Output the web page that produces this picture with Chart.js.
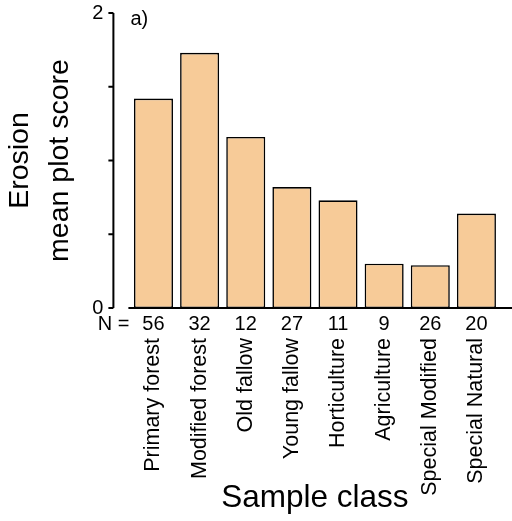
<!DOCTYPE html>
<html>
<head>
<meta charset="utf-8">
<script src="https://cdn.jsdelivr.net/npm/chart.js@4.4.0/dist/chart.umd.min.js"></script>
<style>
    html, body { margin: 0; padding: 0; background: #fff; }
    #wrap { width: 512px; height: 521px; }
</style>
</head>
<body>
<div id="wrap"><canvas id="erosion-chart" width="512" height="521"></canvas></div>
<script>
// Data
const categories = ['Primary forest', 'Modified forest', 'Old fallow', 'Young fallow', 'Horticulture', 'Agriculture', 'Special Modified', 'Special Natural'];
const sampleSizes = [56, 32, 12, 27, 11, 9, 26, 20];
const erosionScores = [1.42, 1.73, 1.16, 0.82, 0.73, 0.30, 0.29, 0.64];
const yLabelledTicks = [0, 2];
const panelLabel = 'a)';
const nPrefix = 'N =';

const barFill = '#F7CB98';
const nPadding = 4;

Chart.defaults.font.family = '"Liberation Sans", Arial, sans-serif';
Chart.defaults.color = '#000';

// R-style axes: detached y axis line, baseline, "N =" and panel letter
const axisDecor = {
    id: 'axisDecor',
    afterDraw(chart) {
        const { ctx, chartArea, scales } = chart;
        const y = scales.y;
        const axisX = chartArea.left - 17;
        ctx.save();
        ctx.strokeStyle = '#000';
        ctx.lineWidth = 2;

        ctx.beginPath();
        ctx.moveTo(axisX, y.getPixelForValue(y.max));
        ctx.lineTo(axisX, y.getPixelForValue(y.min));
        y.ticks.forEach(t => {
            const py = y.getPixelForValue(t.value);
            ctx.moveTo(axisX - 5, py);
            ctx.lineTo(axisX, py);
        });
        ctx.stroke();

        const baseY = y.getPixelForValue(0);
        ctx.beginPath();
        ctx.moveTo(chartArea.left - 2, baseY);
        ctx.lineTo(chart.width, baseY);
        ctx.stroke();

        ctx.fillStyle = '#000';
        ctx.font = '20px "Liberation Sans", Arial, sans-serif';
        ctx.textAlign = 'right';
        ctx.textBaseline = 'middle';
        ctx.fillText(nPrefix, chartArea.left - 1, scales.n.top + nPadding + 12);

        ctx.textAlign = 'left';
        ctx.textBaseline = 'alphabetic';
        ctx.fillText(panelLabel, chartArea.left, 25);
        ctx.restore();
    }
};

new Chart(document.getElementById('erosion-chart'), {
    type: 'bar',
    data: {
        labels: categories,
        datasets: [{
            data: erosionScores,
            backgroundColor: barFill,
            borderColor: '#000',
            borderWidth: 1.6,
            borderSkipped: false,
            categoryPercentage: 1,
            barPercentage: 0.846
        }]
    },
    options: {
        responsive: false,
        animation: false,
        devicePixelRatio: 1,
        layout: { padding: { top: 13, right: 12.5, left: 0, bottom: 0 } },
        plugins: {
            legend: { display: false },
            tooltip: { enabled: false }
        },
        scales: {
            y: {
                min: 0,
                max: 2,
                grid: { display: false, drawTicks: false },
                border: { display: false },
                ticks: {
                    stepSize: 0.5,
                    padding: 27,
                    font: { size: 20 },
                    callback: v => yLabelledTicks.includes(v) ? String(v) : ''
                },
                title: {
                    display: true,
                    text: ['Erosion', 'mean plot score'],
                    font: { size: 28.5, lineHeight: 1.4 },
                    padding: { top: 0, bottom: 0 }
                },
                afterFit: scale => {
                    scale.width = 130.4;
                    scale.paddingTop = 0;
                    scale.paddingBottom = 0;
                }
            },
            n: {
                type: 'category',
                labels: sampleSizes.map(String),
                position: 'bottom',
                weight: 0,
                offset: true,
                grid: { display: false, drawTicks: false },
                border: { display: false },
                ticks: { padding: nPadding, maxRotation: 0, autoSkip: false, font: { size: 20 } },
                afterFit: scale => { scale.height = 30; }
            },
            x: {
                position: 'bottom',
                weight: 1,
                offset: true,
                grid: { display: false, drawTicks: false },
                border: { display: false },
                ticks: { padding: 0, minRotation: 90, maxRotation: 90, autoSkip: false, font: { size: 21.5 } },
                title: {
                    display: true,
                    text: 'Sample class',
                    font: { size: 31.5 },
                    padding: { top: 0, bottom: 4 }
                },
                afterFit: scale => { scale.height = 183; }
            }
        }
    },
    plugins: [axisDecor]
});
</script>
</body>
</html>
